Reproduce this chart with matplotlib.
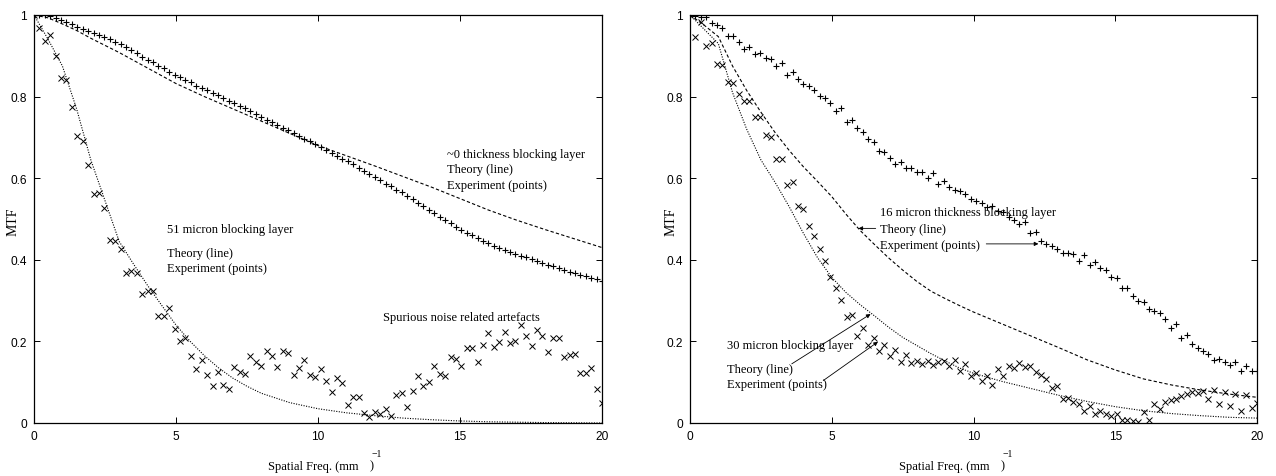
import numpy as np
import matplotlib
matplotlib.use("Agg")
import matplotlib.pyplot as plt

W, H = 1276, 477

# sample frequencies of the measured points (mm^-1), 105 steps over 0..20
freq = np.arange(106) * 20.0 / 105.0

# ---- left panel: ~0 thickness and 51 micron blocking layers ----
thin_exp = [1.000, 1.000, 0.999, 0.997, 0.993, 0.987, 0.982, 0.977, 0.971, 0.966,
            0.960, 0.956, 0.950, 0.945, 0.940, 0.933, 0.928, 0.921, 0.913, 0.906,
            0.898, 0.890, 0.884, 0.875, 0.869, 0.861, 0.854, 0.848, 0.840, 0.835,
            0.827, 0.822, 0.815, 0.809, 0.804, 0.797, 0.790, 0.785, 0.778, 0.772,
            0.764, 0.757, 0.751, 0.743, 0.737, 0.731, 0.723, 0.717, 0.711, 0.703,
            0.697, 0.690, 0.685, 0.676, 0.670, 0.662, 0.655, 0.648, 0.641, 0.634,
            0.626, 0.618, 0.611, 0.603, 0.596, 0.587, 0.580, 0.572, 0.565, 0.556,
            0.548, 0.540, 0.531, 0.523, 0.514, 0.506, 0.497, 0.489, 0.481, 0.473,
            0.466, 0.460, 0.453, 0.447, 0.441, 0.435, 0.430, 0.425, 0.420, 0.415,
            0.410, 0.406, 0.401, 0.397, 0.392, 0.388, 0.384, 0.380, 0.375, 0.371,
            0.367, 0.363, 0.360, 0.356, 0.352, 0.349]
um51_exp = [1.000, 0.968, 0.937, 0.951, 0.899, 0.846, 0.841, 0.774, 0.703, 0.692,
            0.633, 0.561, 0.563, 0.526, 0.449, 0.445, 0.426, 0.368, 0.373, 0.368,
            0.315, 0.323, 0.324, 0.263, 0.262, 0.283, 0.230, 0.201, 0.209, 0.163,
            0.132, 0.155, 0.118, 0.091, 0.124, 0.093, 0.083, 0.137, 0.124, 0.119,
            0.163, 0.149, 0.140, 0.176, 0.163, 0.138, 0.176, 0.171, 0.118, 0.136,
            0.154, 0.118, 0.113, 0.132, 0.104, 0.077, 0.110, 0.098, 0.045, 0.064,
            0.064, 0.025, 0.014, 0.026, 0.023, 0.034, 0.016, 0.069, 0.074, 0.039,
            0.078, 0.114, 0.090, 0.100, 0.139, 0.119, 0.114, 0.161, 0.157, 0.140,
            0.185, 0.184, 0.149, 0.192, 0.221, 0.187, 0.199, 0.222, 0.195, 0.200,
            0.240, 0.214, 0.189, 0.227, 0.213, 0.175, 0.208, 0.209, 0.161, 0.167,
            0.168, 0.123, 0.123, 0.136, 0.083, 0.049]

thin_th_f = [0, 0.5, 1, 1.5, 2, 3, 4, 5, 6, 7, 8, 9, 10, 11, 12, 13, 14, 15, 16, 17, 18, 19, 20]
thin_th = [1.0, 0.993, 0.978, 0.962, 0.943, 0.908, 0.870, 0.832, 0.800, 0.770, 0.740, 0.710,
           0.680, 0.655, 0.630, 0.604, 0.578, 0.550, 0.522, 0.497, 0.474, 0.452, 0.430]
um51_th_f = [0, 0.5, 1, 1.5, 2, 2.5, 3, 3.5, 4, 4.5, 5, 5.5, 6, 6.5, 7, 7.5, 8, 9, 10,
             11, 12, 13, 14, 15, 16, 17, 18, 19, 20]
um51_th = [1.0, 0.94, 0.875, 0.77, 0.645, 0.545, 0.445, 0.39, 0.337, 0.288, 0.24, 0.2,
           0.165, 0.135, 0.11, 0.09, 0.073, 0.05, 0.035, 0.025, 0.018, 0.012, 0.008,
           0.005, 0.003, 0.002, 0.001, 0.0005, 0.0]

# ---- right panel: 16 and 30 micron blocking layers ----
um16_exp = [1.000, 0.997, 0.996, 0.994, 0.980, 0.975, 0.967, 0.949, 0.948, 0.935,
            0.917, 0.922, 0.904, 0.906, 0.894, 0.891, 0.874, 0.882, 0.854, 0.860,
            0.843, 0.831, 0.825, 0.815, 0.802, 0.797, 0.785, 0.765, 0.771, 0.738,
            0.743, 0.722, 0.714, 0.696, 0.688, 0.667, 0.663, 0.649, 0.636, 0.639,
            0.625, 0.625, 0.614, 0.614, 0.600, 0.613, 0.586, 0.594, 0.578, 0.572,
            0.569, 0.561, 0.549, 0.545, 0.539, 0.529, 0.533, 0.519, 0.516, 0.504,
            0.497, 0.488, 0.493, 0.466, 0.468, 0.447, 0.439, 0.433, 0.426, 0.416,
            0.416, 0.414, 0.398, 0.412, 0.387, 0.395, 0.379, 0.375, 0.359, 0.355,
            0.330, 0.330, 0.312, 0.300, 0.296, 0.279, 0.275, 0.269, 0.255, 0.232,
            0.243, 0.208, 0.216, 0.194, 0.185, 0.177, 0.169, 0.155, 0.157, 0.149,
            0.142, 0.150, 0.128, 0.139, 0.128, 0.128]
um30_exp = [1.000, 0.945, 0.984, 0.925, 0.931, 0.880, 0.877, 0.837, 0.833, 0.806,
            0.790, 0.788, 0.749, 0.749, 0.706, 0.700, 0.647, 0.647, 0.583, 0.590,
            0.533, 0.525, 0.484, 0.459, 0.426, 0.396, 0.357, 0.331, 0.302, 0.261,
            0.265, 0.213, 0.232, 0.191, 0.208, 0.177, 0.191, 0.163, 0.180, 0.150,
            0.167, 0.147, 0.151, 0.144, 0.151, 0.142, 0.150, 0.151, 0.140, 0.155,
            0.128, 0.145, 0.116, 0.123, 0.104, 0.116, 0.093, 0.132, 0.114, 0.140,
            0.134, 0.146, 0.137, 0.140, 0.124, 0.118, 0.108, 0.087, 0.090, 0.060,
            0.061, 0.052, 0.047, 0.030, 0.042, 0.022, 0.030, 0.022, 0.018, 0.022,
            0.008, 0.008, 0.006, 0.003, 0.028, 0.008, 0.047, 0.034, 0.052, 0.057,
            0.060, 0.065, 0.070, 0.077, 0.074, 0.079, 0.060, 0.081, 0.047, 0.075,
            0.041, 0.071, 0.030, 0.069, 0.037, 0.049]

th_f = [0, 0.5, 1, 1.5, 2, 2.5, 3, 3.5, 4, 4.5, 5, 5.5, 6, 6.5, 7, 7.5, 8, 8.5, 9, 9.5,
        10, 11, 12, 13, 14, 15, 16, 17, 18, 19, 20]
um16_th = [1.0, 0.975, 0.947, 0.875, 0.815, 0.762, 0.712, 0.668, 0.628, 0.592, 0.555, 0.512,
           0.472, 0.438, 0.405, 0.375, 0.347, 0.323, 0.305, 0.288, 0.272, 0.243, 0.214,
           0.185, 0.155, 0.13, 0.108, 0.093, 0.081, 0.071, 0.063]
um30_th = [1.0, 0.965, 0.93, 0.81, 0.72, 0.645, 0.59, 0.53, 0.465, 0.405, 0.357, 0.32,
           0.29, 0.263, 0.235, 0.21, 0.19, 0.17, 0.152, 0.135, 0.122, 0.102, 0.085,
           0.068, 0.053, 0.04, 0.03, 0.023, 0.018, 0.014, 0.012]

xticks = [0, 5, 10, 15, 20]
yticks = [0, 0.2, 0.4, 0.6, 0.8, 1.0]
ytick_labels = ["0", "0.2", "0.4", "0.6", "0.8", "1"]

SERIF = "Liberation Serif"
SANS = "Liberation Sans"
TXT = 9


def setup_axes(ax):
    ax.set_xlim(0, 20)
    ax.set_ylim(0, 1)
    ax.set_xticks(xticks)
    ax.set_xticklabels([str(t) for t in xticks], family=SANS, fontsize=8.6)
    ax.set_yticks(yticks)
    ax.set_yticklabels(ytick_labels, family=SANS, fontsize=8.6)
    ax.tick_params(direction="in", length=4, width=0.7, top=True, right=True, pad=5)
    for s in ax.spines.values():
        s.set_linewidth(0.9)


def plot_pair(ax, pts_a, pts_b, fa, ya, fb, yb):
    ax.plot(fa, ya, color="black", lw=0.8, ls=(0, (3, 2)))
    ax.plot(fb, yb, color="black", lw=0.8, ls=(0, (1, 1.3)))
    ax.plot(freq, pts_a, ls="none", marker="+", ms=4.6, mew=0.8, color="black")
    ax.plot(freq, pts_b, ls="none", marker="x", ms=3.9, mew=0.7, color="black")


def arrow(ax, tail, tip):
    ax.annotate("", xy=tip, xytext=tail,
                arrowprops=dict(arrowstyle="-|>", lw=0.6, color="black",
                                mutation_scale=6, shrinkA=0, shrinkB=0))


fig = plt.figure(figsize=(W / 100, H / 100), dpi=100)
ax1 = fig.add_axes([34 / W, 1 - 424 / H, 568 / W, 408 / H])
ax2 = fig.add_axes([690 / W, 1 - 424 / H, 567 / W, 408 / H])

plot_pair(ax1, thin_exp, um51_exp, thin_th_f, thin_th, um51_th_f, um51_th)
plot_pair(ax2, um16_exp, um30_exp, th_f, um16_th, th_f, um30_th)
setup_axes(ax1)
setup_axes(ax2)

# left annotations
kw = dict(family=SERIF, fontsize=TXT, va="center", ha="left")
ax1.text(14.53, 0.659, "~0 thickness blocking layer", **kw)
ax1.text(14.53, 0.623, "Theory (line)", **kw)
ax1.text(14.53, 0.583, "Experiment (points)", **kw)
ax1.text(4.67, 0.475, "51 micron blocking layer", **kw)
ax1.text(4.67, 0.416, "Theory (line)", **kw)
ax1.text(4.67, 0.379, "Experiment (points)", **kw)
ax1.text(12.28, 0.259, "Spurious noise related artefacts", **kw)

# right annotations
ax2.text(6.70, 0.516, "16 micron thickness blocking layer", **kw)
ax2.text(6.70, 0.475, "Theory (line)", **kw)
ax2.text(6.70, 0.437, "Experiment (points)", **kw)
arrow(ax2, (6.55, 0.477), (5.94, 0.477))
arrow(ax2, (10.45, 0.439), (12.29, 0.439))
ax2.text(1.32, 0.191, "30 micron blocking layer", **kw)
ax2.text(1.32, 0.132, "Theory (line)", **kw)
ax2.text(1.32, 0.096, "Experiment (points)", **kw)
arrow(ax2, (3.59, 0.145), (6.37, 0.267))
arrow(ax2, (4.70, 0.104), (6.63, 0.199))

# axis titles (gnuplot style, superscript floats above the bracket)
for x0, xb, ylab_x in [(268.3, 370.0, 13), (899.3, 1000.5, 671)]:
    fig.text(x0 / W, 1 - 466.7 / H, "Spatial Freq. (mm", family=SERIF,
             fontsize=TXT, ha="left", va="center")
    fig.text(xb / W, 1 - 466.7 / H, ")", family=SERIF, fontsize=TXT,
             ha="left", va="center")
    fig.text((xb + 2) / W, 1 - 455 / H, "\u22121", family=SERIF, fontsize=7,
             ha="left", va="center")
    fig.text(ylab_x / W, 1 - 222 / H, "MTF", family=SERIF, fontsize=10,
             rotation=90, ha="center", va="center")

fig.savefig("out.png", dpi=100)
